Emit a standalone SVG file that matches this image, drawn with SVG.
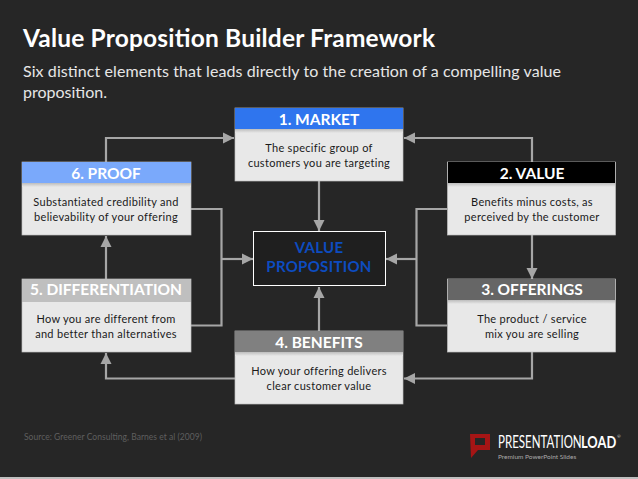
<svg xmlns="http://www.w3.org/2000/svg" width="638" height="479" viewBox="0 0 638 479">
<defs>
<marker id="arr" markerUnits="userSpaceOnUse" markerWidth="12" markerHeight="12" refX="11" refY="6" orient="auto"><path d="M0,0.5 L11,6 L0,11.5 Z" fill="#a6a6a6"/></marker>
<linearGradient id="sh" x1="0" y1="0" x2="0" y2="1"><stop offset="0" stop-color="#bdbdbd"/><stop offset="1" stop-color="#e8e8e8"/></linearGradient>
</defs>
<style>
text{font-family:Lato,"Open Sans","Liberation Sans",sans-serif}
.body{fill:#e8e8e8;stroke:#bfbfbf;stroke-width:.7}
.hd{font-size:15.500px;font-weight:700;fill:#fff;text-anchor:middle}
.tx{font-size:11px;fill:#1a1a1a;text-anchor:middle;letter-spacing:.3px}
.c{fill:none;stroke:#a6a6a6;stroke-width:2.200}
</style>
<rect width="638" height="479" fill="#262626"/>
<rect y="477" width="638" height="2" fill="#bfbfbf"/>
<text x="23" y="46.500" font-size="24.500" font-weight="700" fill="#fff" textLength="412" lengthAdjust="spacing">Value Proposition Builder Framework</text>
<text x="23" y="77" font-size="16" fill="#e6e6e6" textLength="538" lengthAdjust="spacing">Six distinct elements that leads directly to the creation of a compelling value</text>
<text x="23" y="98" font-size="16" fill="#e6e6e6">proposition.</text>
<g id="connectors">
<path class="c" d="M106,162V138H234" marker-end="url(#arr)"/>
<path class="c" d="M532,162V138H404" marker-end="url(#arr)"/>
<path class="c" d="M319,181V231" marker-end="url(#arr)"/>
<path class="c" d="M532,235V279" marker-end="url(#arr)"/>
<path class="c" d="M106,279V236" marker-end="url(#arr)"/>
<path class="c" d="M532,352V378.500H404" marker-end="url(#arr)"/>
<path class="c" d="M235,378.500H106V353" marker-end="url(#arr)"/>
<path class="c" d="M319,331V287" marker-end="url(#arr)"/>
<path class="c" d="M191,209H221.500V325.500H191"/>
<path class="c" d="M221.500,259H253" marker-end="url(#arr)"/>
<path class="c" d="M447,209H416.500V325.500H447"/>
<path class="c" d="M416.500,259H386" marker-end="url(#arr)"/>
</g>
<g id="node-1"><rect class="body" x="235" y="108" width="168" height="73"/><rect x="235" y="108" width="168" height="21" fill="#2f75ee"/><rect x="235" y="129" width="168" height="4" fill="url(#sh)"/><text class="hd" x="319" y="125">1. MARKET</text><text class="tx" x="319" y="152">The specific group of</text><text class="tx" x="319" y="167">customers you are targeting</text></g>
<g id="node-2"><rect class="body" x="447.500" y="162" width="168" height="73"/><rect x="448" y="162" width="167" height="21" fill="#000"/><rect x="448" y="183" width="167" height="4" fill="url(#sh)"/><text class="hd" x="532" y="179">2. VALUE</text><text class="tx" x="532" y="206">Benefits minus costs, as</text><text class="tx" x="532" y="221">perceived by the customer</text></g>
<g id="node-3"><rect class="body" x="447.500" y="279" width="168" height="73"/><rect x="448" y="279" width="167" height="21" fill="#666"/><rect x="448" y="300" width="167" height="4" fill="url(#sh)"/><text class="hd" x="532" y="295">3. OFFERINGS</text><text class="tx" x="532" y="323">The product / service</text><text class="tx" x="532" y="338">mix you are selling</text></g>
<g id="node-4"><rect class="body" x="235" y="331" width="168" height="73"/><rect x="235" y="331" width="168" height="21" fill="#808080"/><rect x="235" y="352" width="168" height="4" fill="url(#sh)"/><text class="hd" x="319" y="348">4. BENEFITS</text><text class="tx" x="319" y="375">How your offering delivers</text><text class="tx" x="319" y="390">clear customer value</text></g>
<g id="node-5"><rect class="body" x="22" y="279" width="169" height="73"/><rect x="22" y="279" width="169" height="23" fill="#bfbfbf"/><text class="hd" x="106" y="295">5. DIFFERENTIATION</text><text class="tx" x="106" y="323">How you are different from</text><text class="tx" x="106" y="338">and better than alternatives</text></g>
<g id="node-6"><rect class="body" x="22" y="162" width="169" height="73"/><rect x="22" y="162" width="169" height="21" fill="#7aa9fb"/><rect x="22" y="183" width="169" height="4" fill="url(#sh)"/><text class="hd" x="106" y="179">6. PROOF</text><text class="tx" x="106" y="206">Substantiated credibility and</text><text class="tx" x="106" y="221">believability of your offering</text></g>
<g id="node-vp"><rect x="253.500" y="231.500" width="132" height="54" fill="#1f1f1f" stroke="#fff" stroke-width="1"/><text font-size="15" font-weight="700" fill="#0d4cc0" text-anchor="middle" letter-spacing=".3"><tspan x="319" y="253">VALUE</tspan><tspan x="319" y="271.500">PROPOSITION</tspan></text></g>
<text x="24" y="440" font-size="8.500" fill="#5f5f5f" textLength="178" lengthAdjust="spacing">Source: Greener Consulting, Barnes et al (2009)</text>
<g id="logo"><path d="M470,434H490V450H478L471,458Z" fill="#a51515"/><rect x="475" y="438" width="10" height="7" fill="#262626"/><text transform="translate(498 448) scale(.7 1)" font-size="16.500" fill="#fff">PRESENTATION</text><text transform="translate(581 448) scale(.78 1)" font-size="16.500" font-weight="700" fill="#fff">LOAD</text><text x="617" y="438" font-size="4.500" fill="#ddd">®</text><text x="498" y="459" font-size="6.500" fill="#aaa">Premium PowerPoint Slides</text></g>
</svg>
